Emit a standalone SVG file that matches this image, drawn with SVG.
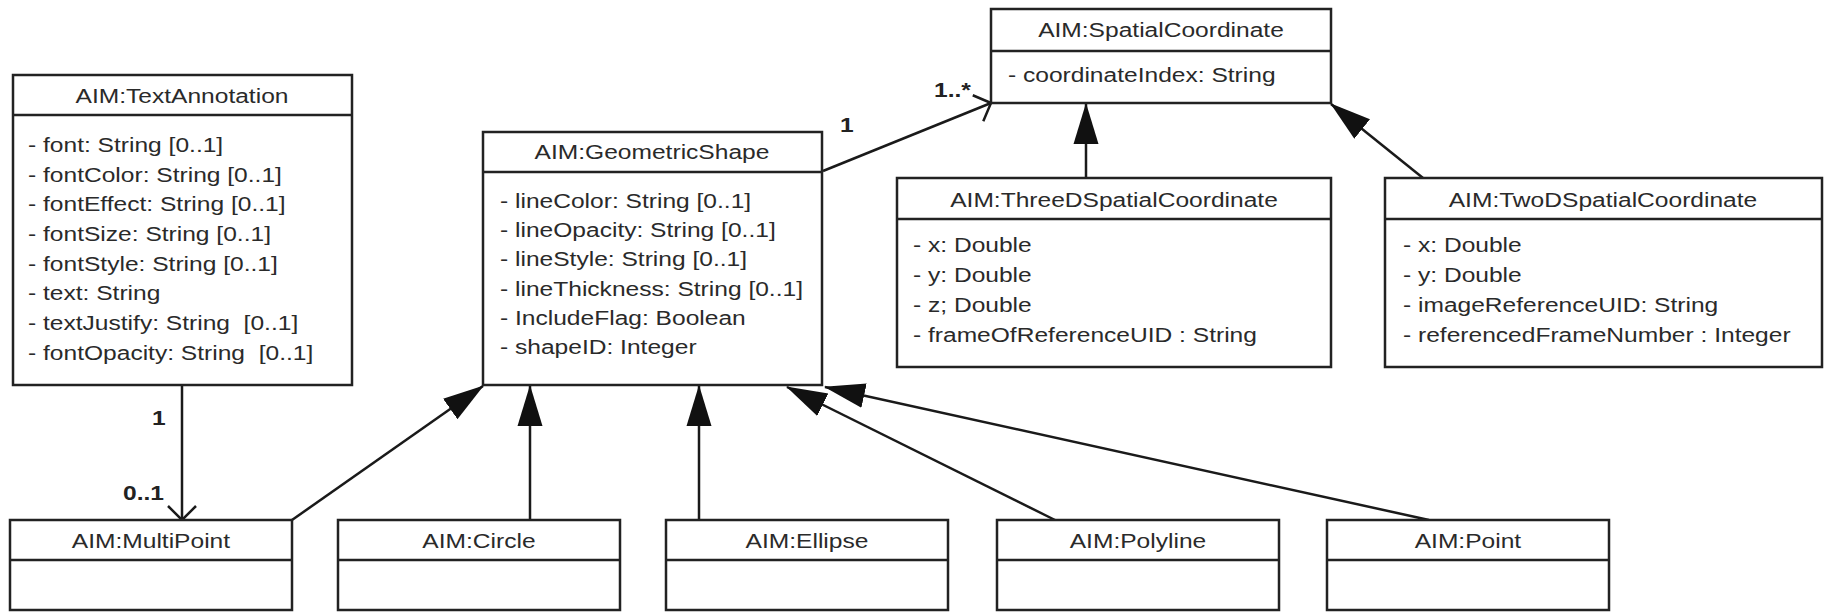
<svg xmlns="http://www.w3.org/2000/svg" width="1830" height="612" viewBox="0 0 1830 612">
<style>
  .box { fill: #fff; stroke: #222; stroke-width: 2.5; }
  .sep { stroke: #222; stroke-width: 2.5; }
  text { font-family: "Liberation Sans", Arial, sans-serif; font-size: 21px; fill: #2a2a2a; transform-box: fill-box; white-space: pre; }
  .ttl { text-anchor: middle; transform-origin: center; transform: scaleX(1.17); }
  .att { text-anchor: start; transform-origin: left; transform: scaleX(1.17); }
  .lbl { font-weight: bold; text-anchor: start; transform-origin: left; transform: scaleX(1.17); fill: #222; }
  .conn { stroke: #1a1a1a; stroke-width: 2.5; fill: none; }
</style>
<defs>
  <marker id="tri" markerUnits="userSpaceOnUse" markerWidth="42" markerHeight="28" viewBox="0 0 42 28" refX="40" refY="14" orient="auto">
    <path d="M0,1.5 L41,14 L0,26.5 z" fill="#111"/>
  </marker>
  <marker id="open" markerUnits="userSpaceOnUse" markerWidth="20" markerHeight="32" viewBox="0 0 20 32" refX="16" refY="16" orient="auto">
    <path d="M2,2 L16,16 L2,30" fill="none" stroke="#1a1a1a" stroke-width="2.5"/>
  </marker>
</defs>

<g id="connectors">
  <line class="conn" x1="182" y1="385" x2="182" y2="520" marker-end="url(#open)"/>
  <line class="conn" x1="292" y1="520" x2="483" y2="386" marker-end="url(#tri)"/>
  <line class="conn" x1="530" y1="520" x2="530" y2="386" marker-end="url(#tri)"/>
  <line class="conn" x1="699" y1="520" x2="699" y2="386" marker-end="url(#tri)"/>
  <line class="conn" x1="1055" y1="520" x2="787" y2="387" marker-end="url(#tri)"/>
  <line class="conn" x1="1429" y1="520" x2="825" y2="387" marker-end="url(#tri)"/>
  <line class="conn" x1="823" y1="171" x2="991" y2="103" marker-end="url(#open)"/>
  <line class="conn" x1="1086" y1="178" x2="1086" y2="104" marker-end="url(#tri)"/>
  <line class="conn" x1="1423" y1="178" x2="1331" y2="104" marker-end="url(#tri)"/>
  <text class="lbl" x="152" y="425">1</text>
  <text class="lbl" x="123" y="500">0..1</text>
  <text class="lbl" x="840" y="132">1</text>
  <text class="lbl" x="934" y="97">1..*</text>
</g>

<g id="TextAnnotation">
  <rect class="box" x="13" y="75" width="339" height="310"/>
  <line class="sep" x1="13" y1="115" x2="352" y2="115"/>
  <text class="ttl" x="182" y="103">AIM:TextAnnotation</text>
  <text class="att" x="28" y="152">- font: String [0..1]</text>
  <text class="att" x="28" y="182">- fontColor: String [0..1]</text>
  <text class="att" x="28" y="211">- fontEffect: String [0..1]</text>
  <text class="att" x="28" y="241">- fontSize: String [0..1]</text>
  <text class="att" x="28" y="271">- fontStyle: String [0..1]</text>
  <text class="att" x="28" y="300">- text: String</text>
  <text class="att" x="28" y="330" xml:space="preserve">- textJustify: String  [0..1]</text>
  <text class="att" x="28" y="360" xml:space="preserve">- fontOpacity: String  [0..1]</text>
</g>

<g id="GeometricShape">
  <rect class="box" x="483" y="132" width="339" height="253"/>
  <line class="sep" x1="483" y1="172" x2="822" y2="172"/>
  <text class="ttl" x="652" y="159">AIM:GeometricShape</text>
  <text class="att" x="500" y="208">- lineColor: String [0..1]</text>
  <text class="att" x="500" y="237">- lineOpacity: String [0..1]</text>
  <text class="att" x="500" y="266">- lineStyle: String [0..1]</text>
  <text class="att" x="500" y="296">- lineThickness: String [0..1]</text>
  <text class="att" x="500" y="325">- IncludeFlag: Boolean</text>
  <text class="att" x="500" y="354">- shapeID: Integer</text>
</g>

<g id="SpatialCoordinate">
  <rect class="box" x="991" y="9" width="340" height="94"/>
  <line class="sep" x1="991" y1="51" x2="1331" y2="51"/>
  <text class="ttl" x="1161" y="37">AIM:SpatialCoordinate</text>
  <text class="att" x="1008" y="82">- coordinateIndex: String</text>
</g>

<g id="ThreeDSpatialCoordinate">
  <rect class="box" x="897" y="178" width="434" height="189"/>
  <line class="sep" x1="897" y1="219" x2="1331" y2="219"/>
  <text class="ttl" x="1114" y="207">AIM:ThreeDSpatialCoordinate</text>
  <text class="att" x="913" y="252">- x: Double</text>
  <text class="att" x="913" y="282">- y: Double</text>
  <text class="att" x="913" y="312">- z; Double</text>
  <text class="att" x="913" y="342">- frameOfReferenceUID : String</text>
</g>

<g id="TwoDSpatialCoordinate">
  <rect class="box" x="1385" y="178" width="437" height="189"/>
  <line class="sep" x1="1385" y1="219" x2="1822" y2="219"/>
  <text class="ttl" x="1603" y="207">AIM:TwoDSpatialCoordinate</text>
  <text class="att" x="1403" y="252">- x: Double</text>
  <text class="att" x="1403" y="282">- y: Double</text>
  <text class="att" x="1403" y="312">- imageReferenceUID: String</text>
  <text class="att" x="1403" y="342">- referencedFrameNumber : Integer</text>
</g>

<g id="MultiPoint">
  <rect class="box" x="10" y="520" width="282" height="90"/>
  <line class="sep" x1="10" y1="560" x2="292" y2="560"/>
  <text class="ttl" x="151" y="548">AIM:MultiPoint</text>
</g>

<g id="Circle">
  <rect class="box" x="338" y="520" width="282" height="90"/>
  <line class="sep" x1="338" y1="560" x2="620" y2="560"/>
  <text class="ttl" x="479" y="548">AIM:Circle</text>
</g>

<g id="Ellipse">
  <rect class="box" x="666" y="520" width="282" height="90"/>
  <line class="sep" x1="666" y1="560" x2="948" y2="560"/>
  <text class="ttl" x="807" y="548">AIM:Ellipse</text>
</g>

<g id="Polyline">
  <rect class="box" x="997" y="520" width="282" height="90"/>
  <line class="sep" x1="997" y1="560" x2="1279" y2="560"/>
  <text class="ttl" x="1138" y="548">AIM:Polyline</text>
</g>

<g id="Point">
  <rect class="box" x="1327" y="520" width="282" height="90"/>
  <line class="sep" x1="1327" y1="560" x2="1609" y2="560"/>
  <text class="ttl" x="1468" y="548">AIM:Point</text>
</g>
</svg>
